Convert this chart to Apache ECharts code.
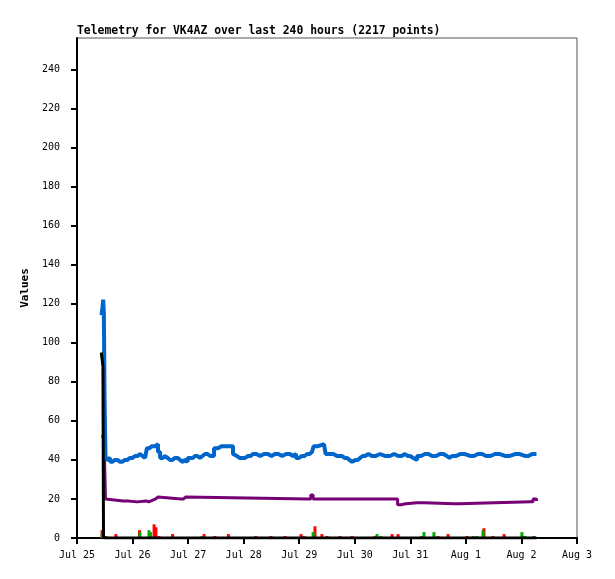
<!DOCTYPE html>
<html>
<head>
<meta charset="utf-8">
<title>Telemetry VK4AZ</title>
<script src="https://cdn.jsdelivr.net/npm/echarts@6/dist/echarts.min.js"></script>
<style>
  html, body { margin: 0; padding: 0; background: #fff; }
  #chart { width: 615px; height: 579px; }
</style>
</head>
<body>
<div id="chart"></div>
<script type="text/javascript">
// hours since Jul 25 00:00
var xTickHours = [0, 24, 48, 72, 96, 120, 144, 168, 192, 216];
var xTickLabels = ['Jul 25', 'Jul 26', 'Jul 27', 'Jul 28', 'Jul 29', 'Jul 30', 'Jul 31', 'Aug 1', 'Aug 2', 'Aug 3'];
var yTicks = [0, 20, 40, 60, 80, 100, 120, 140, 160, 180, 200, 220, 240];

// blue
var blueHours = [10.6, 11.0, 11.3, 11.6, 11.9, 12.3, 12.7, 13.5, 14.3, 15.2, 16.4, 17.5, 18.6, 19.5, 20.7, 21.8,
  22.9, 24.0, 25.1, 26.2, 27.2, 28.3, 29.4, 30.2, 31.3, 32.4, 33.7, 35.0, 35.9, 37.0, 38.0, 39.1, 40.2, 41.2,
  42.3, 43.4, 44.5, 45.6, 46.7, 47.8, 48.8, 50.0, 51.0, 52.0, 53.1, 54.2, 55.3, 56.4, 57.5, 59.2, 60.9, 62.4,
  63.9, 66.1, 67.4, 68.2, 69.1, 70.2, 71.3, 72.6, 73.9, 75.0, 76.0, 77.5, 79.1, 80.8, 82.5, 84.0, 85.5, 87.0,
  88.6, 90.3, 92.0, 93.3, 94.6, 95.9, 97.2, 98.3, 99.4, 100.5, 101.5, 102.2, 104.1, 106.7, 107.4, 108.3,
  109.3, 110.8, 112.3, 113.4, 114.5, 115.6, 116.6, 117.7, 118.8, 119.6, 120.5, 121.4, 122.3, 123.4, 124.4,
  125.9, 127.4, 129.1, 130.9, 133.0, 135.2, 137.0, 138.7, 140.2, 141.7, 142.8, 143.9, 145.2, 146.9, 148.6,
  150.3, 151.8, 153.4, 155.1, 156.8, 158.3, 159.8, 160.9, 162.0, 163.8, 165.5, 167.6, 169.8, 171.5, 173.2,
  175.0, 176.7, 178.6, 180.6, 182.7, 184.9, 187.0, 189.2, 191.3, 193.5, 195.0, 196.6, 198.5];
var blueValues = [114, 118, 122, 115, 72, 42, 40, 41, 39, 40, 40, 39, 39, 40, 40, 41,
  41, 42, 42, 43, 42, 41, 41, 46, 47, 47, 48, 44, 41, 42, 41, 40, 40, 41,
  41, 40, 39, 40, 39, 41, 41, 42, 42, 41, 42, 43, 43, 42, 42, 46, 47, 47,
  47, 47, 43, 42, 41, 41, 41, 42, 42, 43, 43, 42, 43, 43, 42, 43, 43, 42,
  43, 43, 42, 43, 41, 42, 42, 43, 43, 44, 44, 47, 48, 47, 43, 43,
  43, 42, 42, 42, 41, 41, 40, 39, 39, 40, 40, 41, 42, 42, 43,
  42, 42, 43, 42, 42, 43, 42, 42, 43, 42, 42, 41, 40, 42, 43,
  43, 42, 42, 43, 43, 42, 41, 42, 42, 43, 43, 42, 42, 43, 43,
  42, 42, 43, 43, 42, 42, 43, 43, 42, 42, 43, 43, 43];

// purple
var purpleHours = [10.5, 11.5, 11.9, 12.3, 13, 20, 22, 26, 30, 31, 33, 34, 35, 45, 46, 47, 100, 101, 102,
  137, 138.5, 140, 142, 147, 150, 163, 165, 196, 197, 198.5];
var purpleValues = [52, 51, 40, 20, 19, 19, 18.5, 19, 18.5, 19.5, 20, 21, 20, 20, 21, 20, 20, 22, 20,
  20, 17, 17.5, 18, 18, 17.5, 17.5, 18.5, 18.5, 20, 19];

// black
var blackHours = [10.5, 11.0, 11.2, 11.4, 11.45, 198.5];
var blackValues = [95, 95, 88, 87, 0, 0];

// red spikes
var redHours = [10.8, 12.5, 16.8, 27.0, 31.5, 33.3, 34.1, 35.4, 41.3, 54.9, 59.6, 65.4, 77.3, 83.8, 89.9,
  96.8, 98.1, 102.8, 105.8, 108.0, 113.6, 118.8, 128.7, 136.1, 138.7, 149.0, 156.0, 160.3, 168.5,
  175.8, 179.7, 184.5, 193.1];
var redValues = [4, 1, 2, 4, 1.5, 7, 5.5, 1, 2, 2, 1, 2, 1, 1, 1,
  2, 1, 6, 2, 1, 1, 1, 1, 2, 2, 1, 1, 2, 1,
  5, 1, 2, 1];

// green spikes
var greenHours = [10.8, 27.2, 31.1, 31.8, 54.0, 102.0, 129.6, 131.3, 149.9, 154.2, 171.1, 172.8, 175.4,
  192.2, 193.5, 197.4];
var greenValues = [2, 3, 4, 3, 1, 3, 2, 1, 3, 3, 1, 1, 4, 3, 1, 1];

function pairs(xs, ys) {
  var out = [];
  for (var i = 0; i < xs.length; i++) out.push([xs[i], ys[i]]);
  return out;
}

var font = 'DejaVu Sans Mono';
var chart = echarts.init(document.getElementById('chart'));
var option = {
  animation: false,
  backgroundColor: '#fff',
  title: {
    text: 'Telemetry for VK4AZ over last 240 hours (2217 points)',
    left: 77,
    top: 26,
    padding: 0,
    textStyle: { fontFamily: font, fontSize: 11.4, fontWeight: 'bold', color: '#000' }
  },
  grid: {
    left: 77, top: 38, width: 500, height: 500,
    show: true, borderColor: '#555', borderWidth: 1, backgroundColor: 'transparent'
  },
  xAxis: {
    type: 'value',
    min: 0, max: 216, interval: 24,
    axisLine: { show: true, lineStyle: { color: '#000', width: 2 } },
    axisTick: { show: true, length: 6, lineStyle: { color: '#000', width: 2 }, customValues: xTickHours },
    axisLabel: {
      margin: 12, color: '#000', fontFamily: font, fontSize: 10,
      customValues: xTickHours,
      formatter: function (v) { return xTickLabels[xTickHours.indexOf(v)]; }
    },
    splitLine: { show: false }
  },
  yAxis: {
    type: 'value',
    min: 0, max: 256, interval: 20,
    name: 'Values',
    nameLocation: 'middle',
    nameRotate: 90,
    nameGap: 40,
    nameTextStyle: { fontFamily: font, fontSize: 11, fontWeight: 'bold', color: '#000' },
    axisLine: { show: true, lineStyle: { color: '#000', width: 2 } },
    axisTick: { show: true, length: 6, lineStyle: { color: '#000', width: 2 }, customValues: yTicks },
    axisLabel: { margin: 17, color: '#000', fontFamily: font, fontSize: 10, customValues: yTicks },
    splitLine: { show: false }
  },
  series: [
    {
      name: 'red', type: 'bar', barWidth: 3, barGap: '-100%', z: 2,
      itemStyle: { color: '#ff0000' },
      data: pairs(redHours, redValues)
    },
    {
      name: 'green', type: 'bar', barWidth: 3, barGap: '-100%', z: 3,
      itemStyle: { color: '#00aa00' },
      data: pairs(greenHours, greenValues)
    },
    {
      name: 'purple', type: 'line', step: 'end', showSymbol: false, z: 4,
      lineStyle: { color: '#770077', width: 3 },
      data: pairs(purpleHours, purpleValues)
    },
    {
      name: 'blue', type: 'line', step: 'end', showSymbol: false, z: 5,
      lineStyle: { color: '#0066cc', width: 4 },
      data: pairs(blueHours, blueValues)
    },
    {
      name: 'black', type: 'line', step: 'end', showSymbol: false, z: 6,
      lineStyle: { color: '#000', width: 3 },
      data: pairs(blackHours, blackValues)
    }
  ]
};
chart.setOption(option);
</script>
</body>
</html>
